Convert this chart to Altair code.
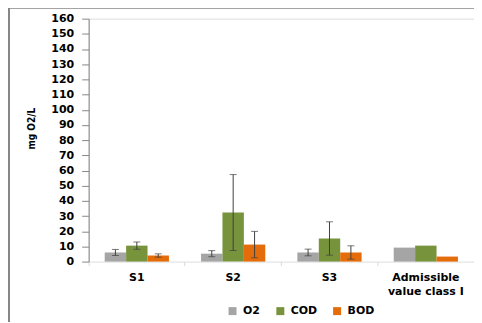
import altair as alt
import pandas as pd

categories = ["S1", "S2", "S3", "Admissible|value class I"]
series = ["O2", "COD", "BOD"]
o2_values = [6.0, 5.2, 6.0, 9.2]
cod_values = [10.5, 32.3, 15.2, 10.5]
bod_values = [4.0, 11.2, 6.0, 3.3]
o2_err = [2.0, 2.0, 2.2, None]
cod_err = [2.4, 25.0, 11.0, None]
bod_err = [1.1, 8.7, 4.4, None]
colors = ["#A5A5A5", "#77933C", "#E46C0A"]
y_ticks = list(range(0, 161, 10))

rows = []
for s, vals, errs in [("O2", o2_values, o2_err), ("COD", cod_values, cod_err), ("BOD", bod_values, bod_err)]:
    for c, v, e in zip(categories, vals, errs):
        r = {"cat": c, "series": s, "value": v}
        if e is not None:
            r["lo"] = v - e
            r["hi"] = v + e
        rows.append(r)
df = pd.DataFrame(rows)
err_df = df.dropna(subset=["lo"])

x_enc = alt.X("cat:N", sort=categories,
              scale=alt.Scale(paddingInner=0, paddingOuter=0),
              axis=alt.Axis(title=None, labelAngle=0, bandPosition=0,
                            labelExpr="split(datum.label, '|')",
                            labelFont="DejaVu Sans", labelFontWeight="bold",
                            labelFontSize=11, labelColor="#000000", labelPadding=6,
                            domain=False, ticks=True, tickSize=4, tickColor="#D9D9D9",
                            labelLineHeight=14))
xo_enc = alt.XOffset("series:N", sort=series,
                     scale=alt.Scale(paddingInner=0, paddingOuter=0.75))

y_scale = alt.Scale(domain=[0, 160], nice=False)
y_axis = alt.Axis(title="mg O2/L", values=y_ticks, grid=False,
                  labelOverlap=False,
                  labelFont="DejaVu Sans", labelFontWeight="bold",
                  labelFontSize=11, labelColor="#000000", labelPadding=8,
                  tickSize=7, tickColor="#868686", domainColor="#868686",
                  titleFont="DejaVu Sans Condensed, Liberation Sans", titleFontSize=10,
                  titleFontWeight="bold", titleColor="#000000",
                  titleAngle=-90, titleX=-52, titleY=110, titleAlign="center")

bars = alt.Chart(df).mark_bar().encode(
    x=x_enc,
    xOffset=xo_enc,
    y=alt.Y("value:Q", scale=y_scale, axis=y_axis),
    color=alt.Color("series:N", sort=series,
                    scale=alt.Scale(domain=series, range=colors),
                    legend=alt.Legend(title=None, orient="none", direction="horizontal",
                                      legendX=139, legendY=288, symbolType="square",
                                      symbolSize=64, symbolStrokeWidth=0,
                                      labelFont="DejaVu Sans", labelFontWeight="bold",
                                      labelFontSize=11, labelColor="#000000",
                                      labelOffset=5, columnPadding=14)),
)

errs = alt.Chart(err_df).mark_rule(color="#404040", strokeWidth=1).encode(
    x=alt.X("cat:N", sort=categories),
    xOffset=alt.XOffset("series:N", sort=series),
    y=alt.Y("lo:Q", scale=y_scale, axis=y_axis),
    y2="hi:Q",
)
caps_hi = alt.Chart(err_df).mark_tick(color="#404040", thickness=1, size=7).encode(
    x=alt.X("cat:N", sort=categories),
    xOffset=alt.XOffset("series:N", sort=series),
    y=alt.Y("hi:Q", scale=y_scale, axis=y_axis),
)
caps_lo = alt.Chart(err_df).mark_tick(color="#404040", thickness=1, size=7).encode(
    x=alt.X("cat:N", sort=categories),
    xOffset=alt.XOffset("series:N", sort=series),
    y=alt.Y("lo:Q", scale=y_scale, axis=y_axis),
)

frame_data = alt.Data(values=[{}])
left_line = alt.Chart(frame_data).mark_rule(color="#868686", strokeWidth=2).encode(
    x=alt.value(-80), y=alt.value(-11), y2=alt.value(310))
top_line = alt.Chart(frame_data).mark_rule(color="#868686", strokeWidth=2).encode(
    x=alt.value(-81), x2=alt.value(390), y=alt.value(-11))

chart = alt.layer(bars, errs, caps_hi, caps_lo, left_line, top_line).properties(
    width=387, height=244,
    autosize=alt.AutoSizeParams(type="none"),
    padding={"left": 81, "top": 10, "right": 0, "bottom": 60},
).configure_view(stroke=None).configure(background="white")

chart.save("out.html", embed_options={"renderer": "svg", "actions": False})
